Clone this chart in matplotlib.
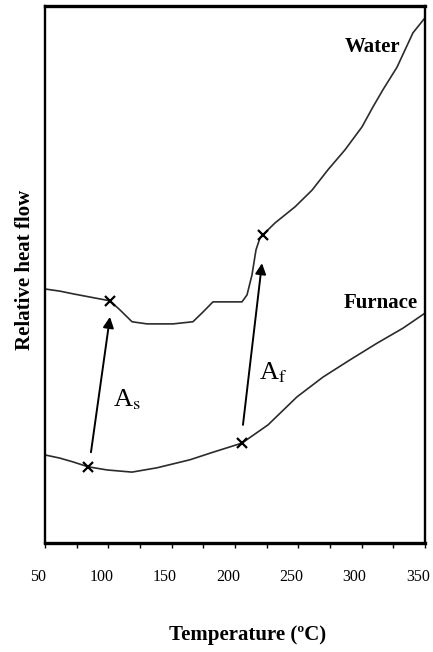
# DSC traces: water-quenched vs furnace-cooled, with As / Af marked

import numpy
import matplotlib
matplotlib.use("Agg")
import matplotlib.pyplot as plt
import matplotlib.transforms as mtransforms

plt.rcParams['font.family'] = ['Liberation Serif', 'DejaVu Serif']
plt.rcParams['mathtext.fontset'] = 'stix'

# water-quenched curve (temperature, relative heat flow in arbitrary units)
water_t = [50.0, 61.8, 72.1, 85.5, 101.3, 109.2, 118.7, 130.5, 151.1, 166.8,
           174.7, 182.6, 193.7, 205.5, 209.5, 213.4, 216.6, 219.7, 222.1, 231.6,
           247.4, 260.8, 273.4, 286.8, 300.3, 308.9, 316.8, 327.9, 334.2, 340.5, 350.0]
water_q = [47.3, 46.9, 46.4, 45.8, 45.1, 43.4, 41.2, 40.8, 40.8, 41.2,
           43.0, 44.9, 44.9, 44.9, 46.2, 49.9, 54.6, 56.8, 57.4, 59.6,
           62.6, 65.7, 69.5, 73.2, 77.5, 81.2, 84.4, 88.6, 91.8, 95.0, 97.8]

# furnace-cooled curve
furnace_t = [50.0, 61.8, 72.1, 83.9, 99.0, 118.7, 138.4, 164.5, 182.6, 205.5,
             226.1, 248.9, 269.5, 290.8, 312.1, 332.6, 350.0]
furnace_q = [16.4, 15.8, 15.1, 14.2, 13.6, 13.2, 14.0, 15.5, 16.9, 18.6,
             22.0, 27.2, 30.9, 34.1, 37.2, 40.0, 42.8]

# marked points: As and Af on each curve
water_marks_t = [101.3, 222.1]
water_marks_q = [45.1, 57.4]
furnace_marks_t = [83.9, 205.5]
furnace_marks_q = [14.2, 18.6]

# arrows (tail on furnace, head on water) and their labels
arrow_tail = [(86.3, 16.9), (206.3, 22.0)]
arrow_head = [(101.3, 42.1), (221.3, 52.1)]
arrow_labels = [r'A$_{\mathrm{s}}$', r'A$_{\mathrm{f}}$']
label_pos = [(103.5, 25.5), (218.8, 30.4)]

fig = plt.figure(figsize=(4.33, 6.52), dpi=100)
ax = fig.add_axes([0.1039, 0.1672, 0.8776, 0.8236])

line_col = '#2b2b2b'
ax.plot(water_t, water_q, color=line_col, lw=1.2)
ax.plot(furnace_t, furnace_q, color=line_col, lw=1.2)
ax.plot(water_marks_t, water_marks_q, 'x', color='black', ms=7, mew=1.6)
ax.plot(furnace_marks_t, furnace_marks_q, 'x', color='black', ms=7, mew=1.6)

for tail, head in zip(arrow_tail, arrow_head):
    ax.annotate('', xy=head, xytext=tail,
                arrowprops=dict(arrowstyle='-|>', color='black', lw=1.4,
                                mutation_scale=16, shrinkA=0, shrinkB=0))
for lab, pos in zip(arrow_labels, label_pos):
    ax.text(pos[0], pos[1], lab, fontsize=19, ha='left', va='baseline')

ax.text(330.5, 92.4, 'Water', fontsize=15, fontweight='bold', ha='right', va='center')
ax.text(344.5, 44.7, 'Furnace', fontsize=15, fontweight='bold', ha='right', va='center')

ax.set_xlim(50, 350)
ax.set_ylim(0, 100)
ax.set_xticks(numpy.arange(50, 351, 50))
ax.set_xticks(numpy.arange(75, 350, 50), minor=True)
ax.set_yticks([])
ax.tick_params(axis='x', which='both', direction='out', length=3.5, width=1.0,
               pad=15, labelsize=11.5)

# tick labels sit a little left of their ticks in the original
shift = mtransforms.ScaledTranslation(-7 / 100, 0, fig.dpi_scale_trans)
for lbl in ax.get_xticklabels():
    lbl.set_transform(lbl.get_transform() + shift)

for side in ['top', 'bottom']:
    ax.spines[side].set_linewidth(2.4)
for side in ['left', 'right']:
    ax.spines[side].set_linewidth(1.7)

fig.text(248 / 433, 1 - 635 / 652, 'Temperature (ºC)', fontsize=15,
         fontweight='bold', ha='center', va='center')
fig.text(25 / 433, 1 - 270 / 652, 'Relative heat flow', fontsize=15,
         fontweight='bold', ha='center', va='center', rotation=90)

fig.savefig('out.png', dpi=100)
